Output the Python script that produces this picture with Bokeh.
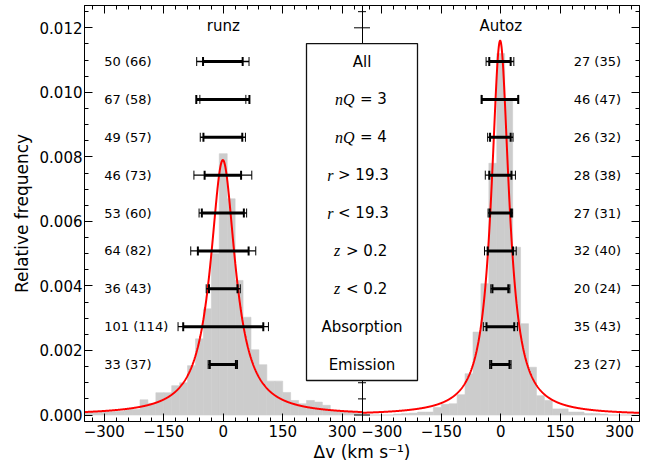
import math
import numpy as np
from bokeh.plotting import figure
from bokeh.models import Range1d, LinearAxis, FixedTicker, PrintfTickFormatter, CustomJSTickFormatter
from bokeh.core.properties import value
from bokeh.embed import file_html
from bokeh.resources import INLINE

# ---------------- data ----------------
bin_centers = [-340, -320, -300, -280, -260, -240, -220, -200, -180, -160, -140, -120, -100, -80, -60, -40, -20,
               0, 20, 40, 60, 80, 100, 120, 140, 160, 180, 200, 220, 240, 260, 280, 300, 320, 340]
bin_width = 20

runz_freq = [0.00008, 0.00008, 0.00010, 0.00010, 0.00012, 0.00017, 0.00017, 0.00047, 0.00036, 0.00069,
             0.00069, 0.00091, 0.00100, 0.00153, 0.00236, 0.00329, 0.00500,
             0.00810, 0.00670, 0.00417, 0.00303, 0.00202, 0.00156, 0.00105, 0.00105, 0.00070,
             0.00045, 0.00035, 0.00045, 0.00040, 0.00030, 0.00014, 0.00010, 0.00010, 0.00006]
autoz_freq = [0, 0, 0, 0, 0.00003, 0.00005, 0.00006, 0.00009, 0.00009, 0.00023, 0.00033, 0.00035, 0.00063,
              0.00128, 0.00257, 0.00407, 0.00780,
              0.01120, 0.00980, 0.00520, 0.00283, 0.00148, 0.00060, 0.00045, 0.00019, 0.00019,
              0.00009, 0.00009, 0.00005, 0.00005, 0.00003, 0, 0, 0, 0]

# Lorentzian fits: amplitude, centre, half width
runz_fit = (0.0079, -1.0, 38.0)
autoz_fit = (0.0116, -1.5, 27.0)

row_names = ["All", "nQ = 3", "nQ = 4", "r > 19.3", "r < 19.3", "z > 0.2", "z < 0.2", "Absorption", "Emission"]
row_italic = ["", "nQ", "nQ", "r", "r", "z", "z", "", ""]
row_rest = ["All", "= 3", "= 4", "> 19.3", "< 19.3", "> 0.2", "< 0.2", "Absorption", "Emission"]

runz_hw = [50, 67, 49, 46, 53, 64, 36, 101, 33]
runz_hw2 = [66, 58, 57, 73, 60, 82, 43, 114, 37]
runz_center = [-1, -1, -1, -1, -1, 0, 0, 0, -1]

autoz_hw = [27, 46, 26, 28, 27, 32, 20, 35, 23]
autoz_hw2 = [35, 47, 32, 38, 31, 40, 24, 43, 27]
autoz_center = [-2, -2, -1, -1, -1, -1, -1, -1, -1]

x_major = [-300, -150, 0, 150, 300]
x_major_labels = ["\u2212300", "\u2212150", "0", "150", "300"]
y_major = [0.0, 0.002, 0.004, 0.006, 0.008, 0.010, 0.012]

# ---------------- layout constants ----------------
PANEL_SHIFT = 700          # right panel placed 700 units to the right on the shared axis
EDGE = 350                 # panel half-width / divider position
row_top, row_step = 0.010955, 0.0011738
row_y = [row_top - i * row_step for i in range(len(row_names))]
FONT = value("DejaVu Sans")
HIST = "#cccccc"

p = figure(width=640, height=466, x_range=Range1d(-EDGE, EDGE + PANEL_SHIFT),
           y_range=Range1d(-0.000201, 0.012691), output_backend="svg", toolbar_location=None,
           min_border_left=84, min_border_right=1, min_border_top=5, min_border_bottom=45)
p.extra_x_ranges = {"autoz": Range1d(-EDGE - PANEL_SHIFT, EDGE)}
p.xgrid.visible = False
p.ygrid.visible = False
p.outline_line_color = "black"
p.background_fill_color = "white"

# ---------------- axes ----------------
x_minor_left = [v for v in range(-330, 331, 30) if v % 150 != 0]
xt = FixedTicker(ticks=x_major + [v + PANEL_SHIFT for v in x_major],
                 minor_ticks=x_minor_left + [v + PANEL_SHIFT for v in x_minor_left])
yt = FixedTicker(ticks=y_major, minor_ticks=[0.0005 * i for i in range(26)])


def style_axis(ax, labels=True):
    ax.major_tick_in = 8
    ax.major_tick_out = 0
    ax.minor_tick_in = 4
    ax.minor_tick_out = 0
    ax.axis_line_color = "black"
    ax.major_tick_line_color = "black"
    ax.minor_tick_line_color = "black"
    ax.major_label_text_font = "DejaVu Sans"
    ax.major_label_text_color = "black"
    if labels:
        ax.major_label_text_font_size = "15px"
        ax.major_label_standoff = 2
    else:
        ax.major_label_text_font_size = "0px"
        ax.major_label_standoff = 0
        ax.formatter = CustomJSTickFormatter(code="return ''")


xb = p.xaxis[0]
xb.ticker = xt
overrides = {}
for v, lab in zip(x_major, x_major_labels):
    overrides[v] = lab
    overrides[v + PANEL_SHIFT] = lab
xb.major_label_overrides = overrides
style_axis(xb)
xb.major_label_standoff = 3
xb.axis_label = "\u0394v (km s\u207b\u00b9)"
xb.axis_label_text_font = "DejaVu Sans"
xb.axis_label_text_font_style = "normal"
xb.axis_label_text_font_size = "17px"
xb.axis_label_text_color = "black"
xb.axis_label_standoff = 2

yl = p.yaxis[0]
yl.ticker = yt
yl.formatter = PrintfTickFormatter(format="%.3f")
style_axis(yl)
yl.axis_label = "Relative frequency"
yl.axis_label_text_font = "DejaVu Sans"
yl.axis_label_text_font_style = "normal"
yl.axis_label_text_font_size = "17px"
yl.axis_label_text_color = "black"
yl.axis_label_standoff = 5

xtop = LinearAxis(ticker=xt)
style_axis(xtop, labels=False)
p.add_layout(xtop, "above")
yr = LinearAxis(ticker=yt)
style_axis(yr, labels=False)
p.add_layout(yr, "right")

# ---------------- histograms ----------------
lefts = [c - bin_width / 2 for c in bin_centers]
rights = [c + bin_width / 2 for c in bin_centers]
p.quad(left=lefts, right=rights, bottom=0, top=runz_freq, fill_color=HIST, line_color=HIST, line_width=0.6)
p.quad(left=lefts, right=rights, bottom=0, top=autoz_freq, fill_color=HIST, line_color=HIST, line_width=0.6,
       x_range_name="autoz")

# ---------------- fitted curves ----------------
v = np.linspace(-EDGE, EDGE, 1401)


def lorentz(x, amp, x0, gamma):
    return amp / (1.0 + ((x - x0) / gamma) ** 2)


p.line(v, lorentz(v, *runz_fit), line_color="red", line_width=2)
p.line(v, lorentz(v, *autoz_fit), line_color="red", line_width=2, x_range_name="autoz")

# ---------------- divider between panels with its ticks ----------------
p.vspan(x=[EDGE], line_color="black", line_width=1)
p.scatter(x=[EDGE] * len(y_major), y=y_major, marker="dash", size=16, line_color="black", line_width=1)
y_minor = [0.0005 * i for i in range(26) if i % 4 != 0]
p.scatter(x=[EDGE] * len(y_minor), y=y_minor, marker="dash", size=8, line_color="black", line_width=1)

# ---------------- central label box ----------------
p.quad(left=[EDGE - 140], right=[EDGE + 140], bottom=[0.00107], top=[0.01151],
       fill_color="white", line_color="#111111", line_width=1.3)

plain_idx = [i for i, it in enumerate(row_italic) if it == ""]
split_idx = [i for i, it in enumerate(row_italic) if it != ""]
p.text(x=[EDGE] * len(plain_idx), y=[row_y[i] for i in plain_idx], text=[row_rest[i] for i in plain_idx],
       text_align="center", text_baseline="middle", text_font=FONT, text_font_size="15px", text_color="black")
split_off = {"nQ": (-7.5, -2.0), "r": (-28.5, -24.0), "z": (-21.8, -16.0)}
p.text(x=[EDGE] * len(split_idx), y=[row_y[i] for i in split_idx], text=[row_italic[i] for i in split_idx],
       x_offset=[split_off[row_italic[i]][0] for i in split_idx],
       text_align="right", text_baseline="middle", text_font=value("Liberation Serif"),
       text_font_style="italic", text_font_size="16px", text_color="black")
p.text(x=[EDGE] * len(split_idx), y=[row_y[i] for i in split_idx], text=[row_rest[i] for i in split_idx],
       x_offset=[split_off[row_italic[i]][1] for i in split_idx],
       text_align="left", text_baseline="middle", text_font=FONT, text_font_size="15px", text_color="black")


# ---------------- error bars ----------------
def error_bars(centers, hw_thick, hw_thin, rng):
    lo2 = [c - h for c, h in zip(centers, hw_thin)]
    hi2 = [c + h for c, h in zip(centers, hw_thin)]
    lo1 = [c - h for c, h in zip(centers, hw_thick)]
    hi1 = [c + h for c, h in zip(centers, hw_thick)]
    p.segment(x0=lo2, y0=row_y, x1=hi2, y1=row_y, line_color="black", line_width=1.3, x_range_name=rng)
    p.scatter(x=lo2 + hi2, y=row_y + row_y, marker="dash", angle=math.pi / 2, size=9,
              line_color="black", line_width=1, x_range_name=rng)
    p.segment(x0=lo1, y0=row_y, x1=hi1, y1=row_y, line_color="black", line_width=3, x_range_name=rng)
    p.scatter(x=lo1 + hi1, y=row_y + row_y, marker="dash", angle=math.pi / 2, size=9,
              line_color="black", line_width=2, x_range_name=rng)


error_bars(runz_center, runz_hw, runz_hw2, "default")
error_bars(autoz_center, autoz_hw, autoz_hw2, "autoz")

runz_labels = [f"{a} ({b})" for a, b in zip(runz_hw, runz_hw2)]
autoz_labels = [f"{a} ({b})" for a, b in zip(autoz_hw, autoz_hw2)]
p.text(x=[-300] * len(row_y), y=row_y, text=runz_labels, text_align="left", text_baseline="middle",
       text_font=FONT, text_font_size="13px", text_color="black")
p.text(x=[184] * len(row_y), y=row_y, text=autoz_labels, text_align="left", text_baseline="middle",
       text_font=FONT, text_font_size="13px", text_color="black", x_range_name="autoz")

# ---------------- panel titles ----------------
p.text(x=[0], y=[0.01207], text=["runz"], text_align="center", text_baseline="middle",
       text_font=FONT, text_font_size="15px", text_color="black")
p.text(x=[0], y=[0.01207], text=["Autoz"], text_align="center", text_baseline="middle",
       text_font=FONT, text_font_size="15px", text_color="black", x_range_name="autoz")

open("out.html", "w").write(file_html(p, INLINE))
